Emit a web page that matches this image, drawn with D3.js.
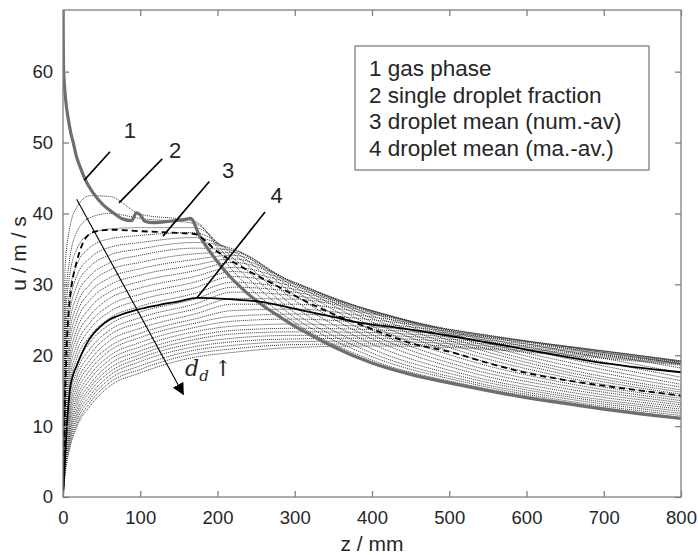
<!DOCTYPE html>
<html>
<head>
<meta charset="utf-8">
<script src="https://cdn.jsdelivr.net/npm/d3@7"></script>
<style>
  body { margin: 0; background: #fff; }
  text { font-family: "Liberation Sans", Arial, sans-serif; fill: #262626; }
</style>
</head>
<body>
<svg id="chart" width="698" height="555"></svg>
<script>
// axial positions (mm) where the droplet fraction velocities were read
const zGrid = [0, 3, 8, 18, 35, 60, 100, 170, 220, 300, 400, 520, 650, 800];

// droplet fraction velocities (m/s), smallest droplets first
const fractionU = [
  [0, 32.8, 37.5, 40.9, 42.5, 42.4, 39.9, 38.9, 31.9, 24.6, 19.3, 15.9, 13.4, 11.2],
  [0, 27.0, 33.0, 37.4, 39.4, 40.0, 39.3, 38.6, 32.9, 25.3, 19.8, 16.2, 13.6, 11.5],
  [0, 24.3, 30.8, 35.0, 37.1, 37.8, 38.0, 38.0, 33.7, 26.0, 20.3, 16.5, 13.9, 11.8],
  [0, 22.2, 28.4, 32.8, 35.2, 36.4, 36.9, 37.3, 34.3, 26.8, 20.9, 16.9, 14.2, 12.1],
  [0, 20.7, 26.8, 31.2, 33.7, 35.2, 35.9, 36.6, 34.7, 27.7, 21.6, 17.3, 14.5, 12.4],
  [0, 19.4, 25.4, 29.8, 32.5, 34.1, 35.0, 35.9, 35.0, 28.5, 22.3, 17.8, 14.9, 12.7],
  [0, 18.2, 24.0, 28.4, 31.2, 33.0, 34.1, 35.1, 34.8, 29.1, 22.9, 18.3, 15.3, 13.0],
  [0, 17.1, 22.7, 27.1, 30.0, 32.0, 33.1, 34.3, 34.5, 29.6, 23.5, 18.8, 15.7, 13.3],
  [0, 16.1, 21.5, 25.9, 28.9, 30.9, 32.2, 33.5, 34.1, 30.0, 24.1, 19.4, 16.1, 13.6],
  [0, 15.1, 20.4, 24.8, 27.8, 29.9, 31.3, 32.7, 33.6, 30.2, 24.7, 19.9, 16.5, 13.9],
  [0, 14.2, 19.3, 23.6, 26.7, 28.9, 30.4, 31.9, 33.1, 30.3, 25.2, 20.4, 16.9, 14.2],
  [0, 13.3, 18.3, 22.6, 25.6, 28.0, 29.5, 31.1, 32.4, 30.2, 25.6, 20.9, 17.3, 14.5],
  [0, 12.4, 17.3, 21.5, 24.6, 27.0, 28.6, 30.3, 31.8, 30.0, 26.0, 21.4, 17.7, 14.8],
  [0, 11.7, 16.3, 20.5, 23.7, 26.1, 27.8, 29.5, 31.1, 29.7, 26.2, 21.8, 18.1, 15.1],
  [0, 10.9, 15.4, 19.6, 22.7, 25.2, 26.9, 28.7, 30.3, 29.3, 26.3, 22.2, 18.6, 15.5],
  [0, 10.2, 14.6, 18.6, 21.8, 24.3, 26.1, 27.9, 29.6, 28.9, 26.3, 22.5, 19.1, 15.9],
  [0, 9.5, 13.8, 17.8, 20.9, 23.5, 25.3, 27.2, 28.9, 28.4, 26.2, 22.8, 19.6, 16.4],
  [0, 8.9, 13.0, 17.0, 20.1, 22.8, 24.6, 26.5, 28.0, 27.9, 26.0, 23.0, 20.1, 16.9],
  [0, 8.3, 12.3, 16.2, 19.3, 22.0, 23.8, 25.8, 27.2, 27.2, 25.8, 23.2, 20.6, 17.5],
  [0, 7.7, 11.6, 15.5, 18.6, 21.2, 23.1, 25.1, 26.3, 26.5, 25.4, 23.3, 21.0, 18.2],
  [0, 7.2, 11.0, 14.8, 17.9, 20.6, 22.5, 24.5, 25.5, 25.8, 25.0, 23.3, 21.2, 18.8],
  [0, 6.7, 10.4, 14.1, 17.2, 19.9, 21.8, 23.9, 24.8, 25.1, 24.5, 23.1, 21.3, 19.1],
  [0, 6.2, 9.8, 13.5, 16.6, 19.3, 21.2, 23.3, 24.1, 24.4, 24.0, 22.9, 21.3, 19.2],
  [0, 5.8, 9.2, 12.9, 15.9, 18.7, 20.6, 22.7, 23.5, 23.8, 23.6, 22.7, 21.2, 19.2],
  [0, 5.4, 8.8, 12.3, 15.4, 18.1, 20.1, 22.2, 23.0, 23.3, 23.2, 22.4, 21.0, 19.1],
  [0, 5.0, 8.3, 11.8, 14.9, 17.6, 19.6, 21.7, 22.4, 22.8, 22.8, 22.1, 20.8, 19.0],
  [0, 4.6, 7.8, 11.3, 14.3, 17.1, 19.1, 21.2, 21.9, 22.3, 22.4, 21.8, 20.6, 18.9],
  [0, 4.2, 7.4, 10.8, 13.8, 16.6, 18.5, 20.7, 21.4, 21.9, 22.0, 21.5, 20.4, 18.8],
  [0, 3.9, 6.9, 10.3, 13.3, 16.1, 18.0, 20.2, 20.9, 21.5, 21.6, 21.2, 20.2, 18.7],
  [0, 3.5, 6.5, 9.9, 12.8, 15.6, 17.5, 19.7, 20.4, 21.1, 21.3, 21.0, 20.0, 18.6]
];

// gas phase (1)
const gasZ = [0, 0.3, 0.6, 1.3, 2.6, 4.5, 7, 10, 13.3, 17, 22, 30, 39, 52, 65, 78, 89, 95, 100, 106,
  117, 138, 160, 165, 177, 195, 216, 238, 260, 281, 300, 325, 350, 400, 450, 500, 550, 600, 650, 700, 750, 800];
const gasU = [75, 65, 61, 59, 57, 55, 53.2, 51.4, 50, 48.2, 46.6, 44.5, 42.9, 41.2, 40.1, 39.2, 39.0, 40.1, 39.8, 38.9,
  38.7, 38.9, 39.2, 39.3, 36.8, 33.9, 31.1, 28.8, 26.9, 25.4, 24.1, 22.6, 21.2, 18.9, 17.3, 16.1, 15.0, 14.0, 13.2, 12.4, 11.7, 11.1];

// droplet mean, number averaged (3)
const numMeanZ = [0, 1, 2.5, 4, 6, 9, 13, 18, 28, 40, 60, 100, 140, 170, 200, 240, 280, 300, 350, 400, 450, 500, 550, 600, 650, 720, 800];
const numMeanU = [0, 5, 13, 19, 24, 28, 31, 33.3, 36.3, 37.4, 37.7, 37.5, 37.3, 37.1, 34.6, 31.9, 29.6, 28.4, 25.8, 23.7, 21.7, 20.5, 18.9, 17.5, 16.5, 15.4, 14.3];

// droplet mean, mass averaged (4)
const massMeanZ = [0, 2, 5, 9, 13, 18, 25, 31, 40, 48, 60, 70, 95, 125, 150, 173, 216, 259, 302, 345, 389, 432, 475, 518, 560, 600, 687, 800];
const massMeanU = [0, 4, 10, 15.2, 17.2, 18.6, 20.4, 21.7, 23.1, 24.0, 25.0, 25.5, 26.4, 27.1, 27.6, 28.1, 27.9, 27.5, 26.5, 25.5, 24.5, 23.9, 23.2, 22.4, 21.6, 20.8, 19.1, 17.6];

const xTicks = [0, 100, 200, 300, 400, 500, 600, 700, 800];
const yTicks = [0, 10, 20, 30, 40, 50, 60];
const legendItems = ["1 gas phase", "2 single droplet fraction", "3 droplet mean (num.-av)", "4 droplet mean (ma.-av.)"];

// callout labels: text position and leader line, in data units (z, u)
const calloutText = ["1", "2", "3", "4"];
const calloutAt = [[86.7, 51.8], [145, 49.0], [213.6, 46.1], [276.6, 42.6]];
const calloutFrom = [[60.8, 48.7], [128.5, 47.7], [189.4, 44.5], [261.5, 40.2]];
const calloutTo = [[27.6, 44.7], [72.5, 41.5], [129.4, 36.8], [173.5, 28.1]];
const arrowFrom = [17.7, 42.0];
const arrowTo = [155.7, 14.5];
const arrowLabelAt = [158, 17.0];

const margin = { left: 63, right: 17, top: 10, bottom: 58 };
const width = 698, height = 555;

const x = d3.scaleLinear().domain([0, 800]).range([margin.left, width - margin.right]);
const y = d3.scaleLinear().domain([0, 68.7]).range([height - margin.bottom, margin.top]);

const svg = d3.select("#chart");

svg.append("defs").append("clipPath").attr("id", "plotclip")
  .append("rect")
  .attr("x", x(0)).attr("y", y(68.7))
  .attr("width", x(800) - x(0)).attr("height", y(0) - y(68.7));

svg.select("defs").append("marker")
  .attr("id", "arrowhead")
  .attr("viewBox", "0 0 10 10")
  .attr("refX", 9).attr("refY", 5)
  .attr("markerWidth", 12).attr("markerHeight", 12)
  .attr("markerUnits", "userSpaceOnUse")
  .attr("orient", "auto")
  .append("path").attr("d", "M0,0 L10,5 L0,10 z").attr("fill", "#000");

const plot = svg.append("g").attr("clip-path", "url(#plotclip)");

const line = d3.line()
  .x((d) => x(d[0]))
  .y((d) => y(d[1]))
  .curve(d3.curveMonotoneX);

// droplet fractions
plot.selectAll("path.fraction")
  .data(fractionU)
  .enter()
  .append("path")
  .attr("class", "fraction")
  .attr("d", (row) => line(row.map((u, i) => [zGrid[i], u])))
  .attr("fill", "none")
  .attr("stroke", "#1e1e1e")
  .attr("stroke-width", 0.9)
  .attr("stroke-dasharray", "1,1");

// gas phase
plot.append("path")
  .attr("d", line(gasZ.map((z, i) => [z, gasU[i]])))
  .attr("fill", "none")
  .attr("stroke", "#6e6e6e")
  .attr("stroke-width", 3.2)
  .attr("stroke-linejoin", "round");

// number mean
plot.append("path")
  .attr("d", line(numMeanZ.map((z, i) => [z, numMeanU[i]])))
  .attr("fill", "none")
  .attr("stroke", "#000")
  .attr("stroke-width", 1.8)
  .attr("stroke-dasharray", "6,4");

// mass mean
plot.append("path")
  .attr("d", line(massMeanZ.map((z, i) => [z, massMeanU[i]])))
  .attr("fill", "none")
  .attr("stroke", "#000")
  .attr("stroke-width", 1.8);

// axes box with inward ticks on all sides
const axisColor = "#808080";
const tickLen = 6;

const xAxis = svg.append("g")
  .attr("transform", "translate(0," + y(0) + ")")
  .call(d3.axisBottom(x).tickValues(xTicks).tickSizeInner(-tickLen).tickSizeOuter(0).tickPadding(14));
const yAxis = svg.append("g")
  .attr("transform", "translate(" + x(0) + ",0)")
  .call(d3.axisLeft(y).tickValues(yTicks).tickSizeInner(-tickLen).tickSizeOuter(0).tickPadding(10));
const xTop = svg.append("g")
  .attr("transform", "translate(0," + y(68.7) + ")")
  .call(d3.axisTop(x).tickValues(xTicks).tickSizeInner(-tickLen).tickSizeOuter(0).tickFormat(""));
const yRight = svg.append("g")
  .attr("transform", "translate(" + x(800) + ",0)")
  .call(d3.axisRight(y).tickValues(yTicks).tickSizeInner(-tickLen).tickSizeOuter(0).tickFormat(""));

[xAxis, yAxis, xTop, yRight].forEach((g) => {
  g.select(".domain").remove();
  g.selectAll(".tick line").attr("stroke", axisColor).attr("stroke-width", 1.3);
  g.selectAll(".tick text")
    .attr("font-size", 18.5)
    .attr("font-family", "'Liberation Sans', Arial, sans-serif")
    .attr("fill", "#262626");
});

svg.append("rect")
  .attr("x", x(0)).attr("y", y(68.7))
  .attr("width", x(800) - x(0)).attr("height", y(0) - y(68.7))
  .attr("fill", "none")
  .attr("stroke", axisColor)
  .attr("stroke-width", 1.3);

// axis titles
svg.append("text")
  .attr("x", (x(0) + x(800)) / 2)
  .attr("y", 551)
  .attr("text-anchor", "middle")
  .attr("font-size", 21)
  .text("z / mm");

svg.append("text")
  .attr("transform", "translate(26," + (y(0) + y(68.7)) / 2 + ") rotate(-90)")
  .attr("text-anchor", "middle")
  .attr("font-size", 21)
  .text("u / m / s");

// callouts
const callouts = svg.append("g");
calloutText.forEach((t, i) => {
  callouts.append("line")
    .attr("x1", x(calloutFrom[i][0])).attr("y1", y(calloutFrom[i][1]))
    .attr("x2", x(calloutTo[i][0])).attr("y2", y(calloutTo[i][1]))
    .attr("stroke", "#000")
    .attr("stroke-width", 1.6);
  callouts.append("text")
    .attr("x", x(calloutAt[i][0]))
    .attr("y", y(calloutAt[i][1]))
    .attr("dy", "0.36em")
    .attr("text-anchor", "middle")
    .attr("font-size", 22)
    .text(t);
});

// droplet size arrow
svg.append("line")
  .attr("x1", x(arrowFrom[0])).attr("y1", y(arrowFrom[1]))
  .attr("x2", x(arrowTo[0])).attr("y2", y(arrowTo[1]))
  .attr("stroke", "#000")
  .attr("stroke-width", 1.1)
  .attr("marker-end", "url(#arrowhead)");

const dLabel = svg.append("text")
  .attr("x", x(arrowLabelAt[0]))
  .attr("y", y(arrowLabelAt[1]))
  .attr("font-size", 22)
  .style("font-family", "'DejaVu Serif', 'Liberation Serif', serif");
dLabel.append("tspan").attr("font-style", "italic").text("d");
dLabel.append("tspan").attr("font-style", "italic").attr("font-size", 15).attr("dy", 5).text("d");
dLabel.append("tspan").attr("dy", -5).attr("dx", 5).text("↑");

// legend
const legend = svg.append("g").attr("transform", "translate(355,46)");
legend.append("rect")
  .attr("width", 294).attr("height", 124)
  .attr("fill", "#fff")
  .attr("stroke", axisColor)
  .attr("stroke-width", 1.3);
legend.selectAll("text.item")
  .data(legendItems)
  .enter()
  .append("text")
  .attr("class", "item")
  .attr("x", 14)
  .attr("y", (d, i) => 30 + i * 26.7)
  .attr("font-size", 22.5)
  .text((d) => d);
</script>
</body>
</html>
